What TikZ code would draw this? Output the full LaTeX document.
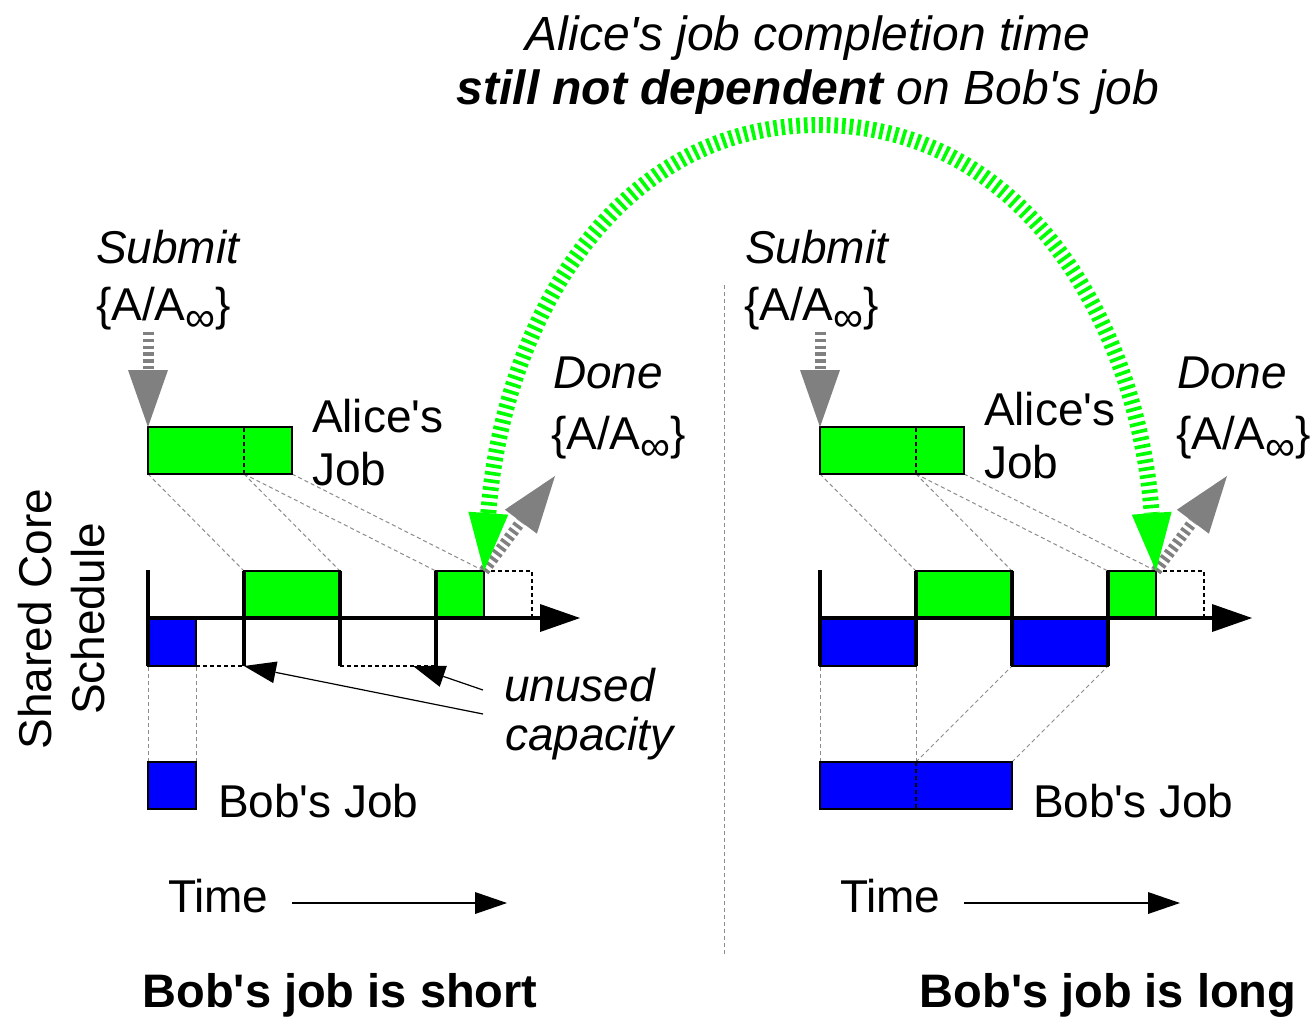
\documentclass[tikz,border=0pt]{standalone}
\usepackage{fontspec}
\setmainfont{Liberation Sans}
\usetikzlibrary{arrows.meta,calc}
\definecolor{jobgreen}{RGB}{0,255,0}
\definecolor{jobblue}{RGB}{0,0,255}
\definecolor{tipgray}{RGB}{128,128,128}
\definecolor{guidegray}{RGB}{140,140,140}
% straight apostrophe
\newcommand{\ap}{\textquotesingle}
% {A/A_inf} label with a small infinity subscript
\newcommand{\AAinf}{\{A/A\raisebox{-11pt}{\fontsize{42pt}{42pt}\selectfont ∞}\}}

\begin{document}
\begin{tikzpicture}[x=1pt,y=-1pt,
  every node/.style={inner sep=0pt, outer sep=0pt},
  lbl/.style={anchor=base west, font=\fontsize{46pt}{55pt}\selectfont},
  ilbl/.style={anchor=base west, font=\fontsize{46pt}{55pt}\selectfont\itshape},
  caption/.style={anchor=base, font=\fontsize{47pt}{56pt}\selectfont\bfseries},
  titlefont/.style={anchor=base, font=\fontsize{48pt}{57pt}\selectfont\itshape},
  box/.style={rectangle, draw=black, line width=1.3pt, anchor=north west},
  guide/.style={draw=guidegray, line width=1pt, dash pattern=on 4pt off 3pt},
  blackdash/.style={draw=black, line width=1.2pt, dash pattern=on 4pt off 3pt},
  bar/.style={draw=black, line width=3.4pt},
  thinarrow/.style={draw=black, line width=1.2pt, -{Triangle[length=32pt,width=22pt,line width=0pt]}},
  grayarrow/.style={draw=tipgray, line width=11pt, dash pattern=on 3.4pt off 3.4pt,
    -{Triangle[length=57pt,width=40pt,line width=0pt]}},
  greenarc/.style={draw=jobgreen, line width=16pt, dash pattern=on 3.6pt off 4pt,
    {Triangle[length=58pt,width=40pt,line width=0pt]}-{Triangle[length=58pt,width=40pt,line width=0pt]}}
]
\path[use as bounding box, fill=white] (0,0) rectangle (1314,1018);

% ---------- title ----------
\node[titlefont] (title1) at (808,50) {Alice\ap s job completion time};
\node[titlefont] (title2) at (808,104) {\textbf{still not dependent} on Bob\ap s job};

% ---------- y label ----------
\node[rotate=90, anchor=base, font=\fontsize{46pt}{55pt}\selectfont] (ylab1) at (51,619) {Shared Core};
\node[rotate=90, anchor=base, font=\fontsize{46pt}{55pt}\selectfont] (ylab2) at (104,619) {Schedule};

% ---------- panel divider ----------
\coordinate (divTop) at (724,285);
\coordinate (divBot) at (724,955);
\draw[guide] (divTop) -- (divBot);

% ================= left panel: Bob's job is short =================
% boxes (positioned first so the guides can refer to them)
\path
  node[box, fill=jobgreen, minimum width=144pt, minimum height=47pt] (aliceL) at (148,427) {}
  node[box, fill=jobgreen, minimum width=96pt, minimum height=47pt] (g1L) at (244,571) {}
  node[box, fill=jobgreen, minimum width=48pt, minimum height=47pt] (g2L) at (436,571) {}
  node[box, fill=jobblue, minimum width=48pt, minimum height=48pt] (b1L) at (148,618) {}
  node[box, fill=jobblue, minimum width=48pt, minimum height=47pt] (bobL) at (148,762) {};
\coordinate (aLm) at ($(aliceL.south west)!2/3!(aliceL.south east)$);

% projection guides
\draw[guide] (aliceL.south west) -- (g1L.north west);
\draw[guide] (aLm) -- (g1L.north east);
\draw[guide] (aLm) -- (g2L.north west);
\draw[guide] (aliceL.south east) -- (g2L.north east);
\draw[guide] (bobL.north west) -- (b1L.south west);
\draw[guide] (bobL.north east) -- (b1L.south east);

% redraw boxes on top of the guides
\draw[box, fill=jobgreen] (aliceL.north west) rectangle (aliceL.south east);
\draw[box, fill=jobgreen] (g1L.north west) rectangle (g1L.south east);
\draw[box, fill=jobgreen] (g2L.north west) rectangle (g2L.south east);
\draw[box, fill=jobblue] (b1L.north west) rectangle (b1L.south east);
\draw[box, fill=jobblue] (bobL.north west) rectangle (bobL.south east);
\draw[blackdash] (aLm) -- (aLm |- aliceL.north);

% schedule axis and time-slice bars
\coordinate (yTopL) at (148,570);
\coordinate (axL) at (580,618);
\draw[blackdash] (b1L.south east) -- (g1L.north west |- b1L.south);
\draw[blackdash] (g1L.north east |- b1L.south) -- (g2L.north west |- b1L.south);
\draw[blackdash] (g2L.north east) -- ++(48,0) -- ++(0,47);
\draw[bar] (yTopL) -- (b1L.south west);
\draw[bar] (g1L.north west) -- (g1L.north west |- b1L.south);
\draw[bar] (g1L.north east) -- (g1L.north east |- b1L.south);
\draw[bar] (g2L.north west) -- (g2L.north west |- b1L.south);
\draw[bar, -{Triangle[length=40pt,width=28pt,line width=0pt]}] (b1L.north west) -- (axL);

% unused capacity pointers
\coordinate (uc1) at (483,714);
\coordinate (uc2) at (483,690);
\coordinate (uc2tip) at (413,666);
\draw[thinarrow] (uc1) -- (g1L.north west |- b1L.south);
\draw[thinarrow] (uc2) -- (uc2tip);
\node[ilbl] (unused) at (504,701) {unused};
\node[ilbl] (capacity) at (505,750) {capacity};

% submit / done
\coordinate (subL) at (148,332);
\coordinate (doneL) at (555,476);
\draw[grayarrow] (subL) -- (aliceL.north west);
\draw[grayarrow] (g2L.north east) -- (doneL);
\node[ilbl] (submitL) at (96,263) {Submit};
\node[lbl] (subsetL) at (96,320) {\AAinf};
\node[ilbl] (doneTxtL) at (553,388) {Done};
\node[lbl] (donesetL) at (551,449) {\AAinf};

% labels
\node[lbl] (aliceTxtL) at (312,432) {Alice\ap s};
\node[lbl] (aliceJobL) at (312,485) {Job};
\node[lbl] (bobTxtL) at (218,817) {Bob\ap s Job};
\node[lbl] (timeL) at (168,912) {Time};
\coordinate (tStartL) at (292,903);
\coordinate (tEndL) at (507,903);
\draw[thinarrow] (tStartL) -- (tEndL);
\node[caption] (capL) at (340,1007) {Bob\ap s job is short};

% ================= right panel: Bob's job is long =================
\path
  node[box, fill=jobgreen, minimum width=144pt, minimum height=47pt] (aliceR) at (820,427) {}
  node[box, fill=jobgreen, minimum width=96pt, minimum height=47pt] (g1R) at (916,571) {}
  node[box, fill=jobgreen, minimum width=48pt, minimum height=47pt] (g2R) at (1108,571) {}
  node[box, fill=jobblue, minimum width=96pt, minimum height=48pt] (b1R) at (820,618) {}
  node[box, fill=jobblue, minimum width=96pt, minimum height=48pt] (b2R) at (1012,618) {}
  node[box, fill=jobblue, minimum width=192pt, minimum height=47pt] (bobR) at (820,762) {};
\coordinate (aRm) at ($(aliceR.south west)!2/3!(aliceR.south east)$);
\coordinate (bRm) at ($(bobR.north west)!1/2!(bobR.north east)$);

\draw[guide] (aliceR.south west) -- (g1R.north west);
\draw[guide] (aRm) -- (g1R.north east);
\draw[guide] (aRm) -- (g2R.north west);
\draw[guide] (aliceR.south east) -- (g2R.north east);
\draw[guide] (bobR.north west) -- (b1R.south west);
\draw[guide] (bRm) -- (b1R.south east);
\draw[guide] (bRm) -- (b2R.south west);
\draw[guide] (bobR.north east) -- (b2R.south east);

\draw[box, fill=jobgreen] (aliceR.north west) rectangle (aliceR.south east);
\draw[box, fill=jobgreen] (g1R.north west) rectangle (g1R.south east);
\draw[box, fill=jobgreen] (g2R.north west) rectangle (g2R.south east);
\draw[box, fill=jobblue] (b1R.north west) rectangle (b1R.south east);
\draw[box, fill=jobblue] (b2R.north west) rectangle (b2R.south east);
\draw[box, fill=jobblue] (bobR.north west) rectangle (bobR.south east);
\draw[blackdash] (aRm) -- (aRm |- aliceR.north);
\draw[blackdash] (bRm) -- (bRm |- bobR.south);

\coordinate (yTopR) at (820,570);
\coordinate (axR) at (1252,618);
\draw[blackdash] (g2R.north east) -- ++(48,0) -- ++(0,47);
\draw[bar] (yTopR) -- (b1R.south west);
\draw[bar] (g1R.north west) -- (g1R.north west |- b1R.south);
\draw[bar] (g1R.north east) -- (g1R.north east |- b1R.south);
\draw[bar] (g2R.north west) -- (g2R.north west |- b1R.south);
\draw[bar, -{Triangle[length=40pt,width=28pt,line width=0pt]}] (b1R.north west) -- (axR);

\coordinate (subR) at (820,332);
\coordinate (doneR) at (1227,476);
\draw[grayarrow] (subR) -- (aliceR.north west);
\draw[grayarrow] (g2R.north east) -- (doneR);
\node[ilbl] (submitR) at (745,263) {Submit};
\node[lbl] (subsetR) at (744,320) {\AAinf};
\node[ilbl] (doneTxtR) at (1177,388) {Done};
\node[lbl] (donesetR) at (1176,449) {\AAinf};

\node[lbl] (aliceTxtR) at (984,425) {Alice\ap s};
\node[lbl] (aliceJobR) at (984,478) {Job};
\node[lbl] (bobTxtR) at (1033,817) {Bob\ap s Job};
\node[lbl] (timeR) at (840,912) {Time};
\coordinate (tStartR) at (964,903);
\coordinate (tEndR) at (1180,903);
\draw[thinarrow] (tStartR) -- (tEndR);
\node[caption] (capR) at (1108,1007) {Bob\ap s job is long};

% ---------- completion-time link between the two panels ----------
\draw[greenarc] (g2L.north east) .. controls (502,330) and (610,125) .. (819,125)
                .. controls (1028,125) and (1138,330) .. (g2R.north east);
\end{tikzpicture}
\end{document}
